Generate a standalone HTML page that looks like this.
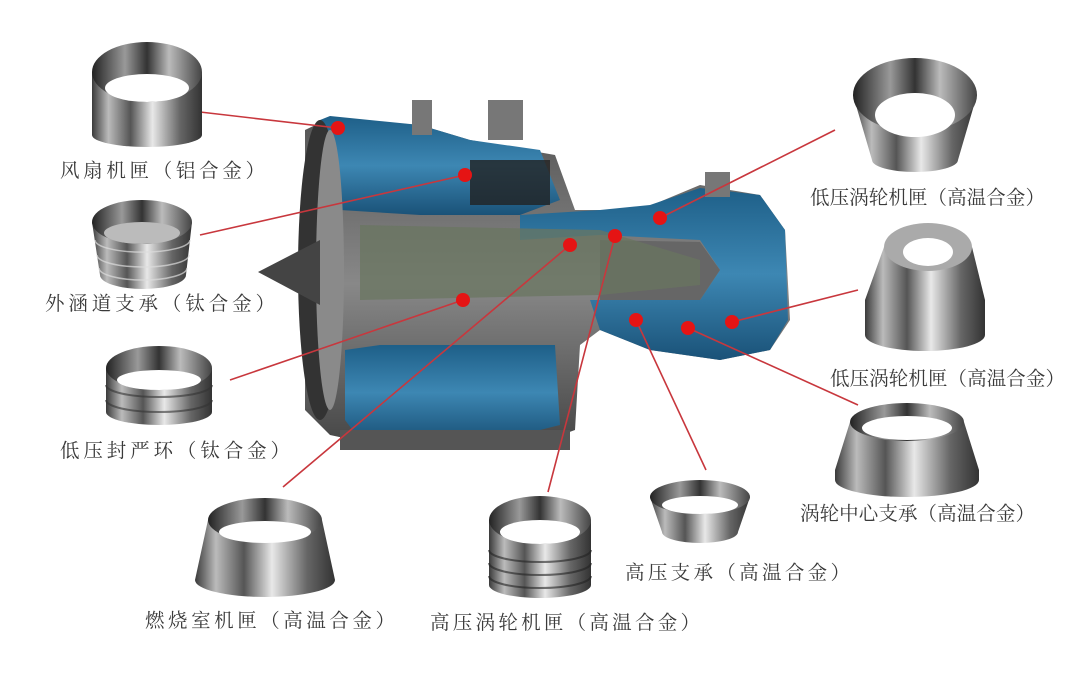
<!DOCTYPE html>
<html><head><meta charset="utf-8"><style>
html,body{margin:0;padding:0;background:#fff;}
svg{display:block}
text{font-family:"Liberation Serif","Noto Serif CJK SC",serif;font-size:19.5px;fill:#3a3a3a;letter-spacing:0px}
</style></head><body>
<svg width="1080" height="687" viewBox="0 0 1080 687" xmlns="http://www.w3.org/2000/svg">
<defs>
<linearGradient id="m" x1="0" x2="1" y1="0" y2="0">
<stop offset="0" stop-color="#3a3a3a"/><stop offset="0.15" stop-color="#bbb"/><stop offset="0.35" stop-color="#555"/><stop offset="0.55" stop-color="#e8e8e8"/><stop offset="0.8" stop-color="#666"/><stop offset="1" stop-color="#333"/></linearGradient>
<linearGradient id="mi" x1="0" x2="1"><stop offset="0" stop-color="#222"/><stop offset="0.3" stop-color="#999"/><stop offset="0.5" stop-color="#333"/><stop offset="0.7" stop-color="#bbb"/><stop offset="1" stop-color="#444"/></linearGradient>
<linearGradient id="b" x1="0" x2="0" y1="0" y2="1"><stop offset="0" stop-color="#1e5f88"/><stop offset="0.5" stop-color="#3d87b3"/><stop offset="1" stop-color="#1a5278"/></linearGradient>
<linearGradient id="core" x1="0" x2="0" y1="0" y2="1"><stop offset="0" stop-color="#555"/><stop offset="0.5" stop-color="#888"/><stop offset="1" stop-color="#444"/></linearGradient>
</defs>

<g>
<path d="M305,130 L330,118 L420,125 L470,140 L555,155 L575,210 L640,210 L700,185 L760,195 L785,230 L790,320 L770,350 L720,360 L650,350 L600,330 L580,345 L575,430 L520,450 L400,450 L330,435 L305,410 Z" fill="url(#core)"/>
<path d="M320,120 L330,116 L420,125 L470,140 L540,150 L560,200 L520,215 L420,215 L340,210 Z" fill="url(#b)"/>
<rect x="470" y="160" width="80" height="45" fill="#222" opacity="0.8"/>
<path d="M520,215 L600,210 L650,205 L700,188 L760,195 L785,230 L788,320 L770,350 L720,360 L650,350 L600,330 L590,300 L700,300 L720,270 L700,240 L600,235 L520,240 Z" fill="url(#b)"/>
<path d="M600,240 L700,242 L720,270 L700,300 L600,300 Z" fill="#666"/>
<path d="M345,350 L380,345 L555,345 L560,425 L500,440 L360,440 L345,420 Z" fill="url(#b)"/>
<path d="M360,225 L600,230 L700,260 L700,285 L600,295 L360,300 Z" fill="#6a7560" opacity="0.75"/>
<ellipse cx="320" cy="270" rx="22" ry="150" fill="#333"/>
<ellipse cx="330" cy="270" rx="14" ry="140" fill="#8a8a8a"/>
<path d="M258,272 L320,240 L320,305 Z" fill="#444"/>
<rect x="412" y="100" width="20" height="35" fill="#777"/>
<rect x="488" y="100" width="35" height="40" fill="#777"/>
<rect x="705" y="172" width="25" height="25" fill="#777"/>
<rect x="340" y="430" width="230" height="20" fill="#555"/>
</g>

<g stroke="#c8373d" stroke-width="1.6" fill="none">
<line x1="200" y1="112" x2="338" y2="128"/>
<line x1="200" y1="235" x2="465" y2="175"/>
<line x1="230" y1="380" x2="463" y2="300"/>
<line x1="283" y1="487" x2="570" y2="245"/>
<line x1="548" y1="492" x2="615" y2="236"/>
<line x1="706" y1="470" x2="636" y2="320"/>
<line x1="858" y1="405" x2="688" y2="328"/>
<line x1="858" y1="290" x2="732" y2="322"/>
<line x1="835" y1="130" x2="660" y2="218"/>
</g>
<g fill="#e51414">
<circle cx="338" cy="128" r="7"/><circle cx="465" cy="175" r="7"/><circle cx="463" cy="300" r="7"/>
<circle cx="570" cy="245" r="7"/><circle cx="615" cy="236" r="7"/><circle cx="660" cy="218" r="7"/>
<circle cx="636" cy="320" r="7"/><circle cx="688" cy="328" r="7"/><circle cx="732" cy="322" r="7"/>
</g>

<g>
<path d="M92,72 L92,135 A55,12 0 0 0 202,135 L202,72 Z" fill="url(#m)"/><ellipse cx="147" cy="72" rx="55" ry="30" fill="url(#mi)"/><ellipse cx="147" cy="88" rx="42" ry="14" fill="#fff"/>
<path d="M92,222 L100,275 A43,14 0 0 0 186,275 L192,222 Z" fill="url(#m)"/>
<g stroke="#ddd" stroke-width="1.5" fill="none" opacity="0.7"><path d="M95,240 A47,12 0 0 0 190,240"/><path d="M97,255 A46,12 0 0 0 189,255"/><path d="M99,268 A44,12 0 0 0 187,268"/></g>
<ellipse cx="142" cy="222" rx="50" ry="22" fill="url(#mi)"/><ellipse cx="142" cy="233" rx="38" ry="11" fill="#bbb"/>
<path d="M106,368 L106,412 A53,13 0 0 0 212,412 L212,368 Z" fill="url(#m)"/>
<g stroke="#333" stroke-width="2" fill="none" opacity="0.6"><path d="M106,385 A53,12 0 0 0 212,385"/><path d="M106,400 A53,12 0 0 0 212,400"/></g>
<ellipse cx="159" cy="368" rx="53" ry="22" fill="url(#mi)"/><ellipse cx="159" cy="380" rx="42" ry="10" fill="#fff"/>
<path d="M208,520 L195,580 A70,17 0 0 0 335,580 L322,520 Z" fill="url(#m)"/><ellipse cx="265" cy="520" rx="57" ry="22" fill="url(#mi)"/><ellipse cx="265" cy="532" rx="46" ry="11" fill="#fff"/>
<path d="M489,520 L489,585 A51,13 0 0 0 591,585 L591,520 Z" fill="url(#m)"/>
<g stroke="#222" stroke-width="2" fill="none" opacity="0.6"><path d="M489,550 A51,12 0 0 0 591,550"/><path d="M489,563 A51,12 0 0 0 591,563"/><path d="M489,576 A51,12 0 0 0 591,576"/></g>
<ellipse cx="540" cy="520" rx="51" ry="24" fill="url(#mi)"/><ellipse cx="540" cy="532" rx="40" ry="12" fill="#fff"/>
<path d="M650,497 L662,532 A38,11 0 0 0 738,532 L750,497 Z" fill="url(#m)"/><ellipse cx="700" cy="497" rx="50" ry="17" fill="url(#mi)"/><ellipse cx="700" cy="505" rx="38" ry="9" fill="#fff"/>
<path d="M853,95 L872,160 A43,12 0 0 0 958,160 L977,95 Z" fill="url(#m)"/><ellipse cx="915" cy="95" rx="62" ry="37" fill="url(#mi)"/><ellipse cx="915" cy="115" rx="40" ry="22" fill="#fff"/>
<path d="M884,247 L865,300 L865,335 A60,16 0 0 0 985,335 L985,300 L972,247 Z" fill="url(#m)"/><ellipse cx="928" cy="247" rx="44" ry="24" fill="#aaa"/><ellipse cx="928" cy="252" rx="25" ry="14" fill="#fff"/>
<path d="M850,422 L835,470 L835,480 A72,17 0 0 0 979,480 L979,470 L964,422 Z" fill="url(#m)"/><ellipse cx="907" cy="422" rx="57" ry="19" fill="url(#mi)"/><ellipse cx="907" cy="428" rx="45" ry="12" fill="#fff"/>
</g>

<text x="60" y="177" textLength="205">风扇机匣（铝合金）</text>
<text x="45" y="310" textLength="230">外涵道支承（钛合金）</text>
<text x="60" y="457" textLength="230">低压封严环（钛合金）</text>
<text x="145" y="627" textLength="250">燃烧室机匣（高温合金）</text>
<text x="430" y="629" textLength="270">高压涡轮机匣（高温合金）</text>
<text x="625" y="579" textLength="225">高压支承（高温合金）</text>
<text x="800" y="520" textLength="235">涡轮中心支承（高温合金）</text>
<text x="830" y="385" textLength="235">低压涡轮机匣（高温合金）</text>
<text x="810" y="204" textLength="235">低压涡轮机匣（高温合金）</text>
</svg>
</body></html>
